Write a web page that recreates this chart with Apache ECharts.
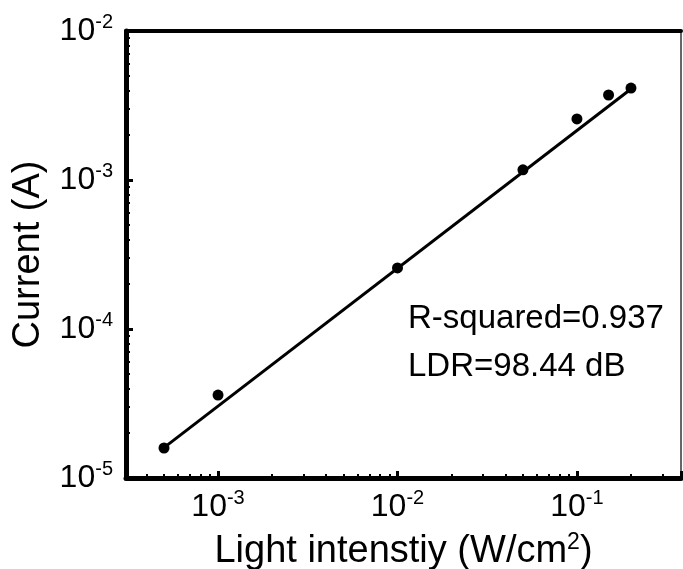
<!DOCTYPE html>
<html>
<head>
<meta charset="utf-8">
<script src="https://cdn.jsdelivr.net/npm/echarts@6/dist/echarts.min.js"></script>
<style>
  html, body { margin: 0; padding: 0; background: #fff; }
  #chart { width: 683px; height: 569px; }
</style>
</head>
<body>
<div id="chart"></div>
<script>
// 数据
var intensity = [5e-4, 1e-3, 1e-2, 5e-2, 0.1, 0.15, 0.2];
var current = [1.59e-5, 3.6e-5, 2.57e-4, 1.17e-3, 2.57e-3, 3.72e-3, 4.14e-3];
// 拟合直线端点
var fitX = [5e-4, 0.2];
var fitY = [1.6e-5, 4.08e-3];
// 坐标轴范围
var xRange = [3.07e-4, 0.38];
var yRange = [1e-5, 1e-2];
var annotation = ['R-squared=0.937', 'LDR=98.44 dB'];

var font = 'Liberation Sans, Arial, sans-serif';

// log 轴次刻度 2..9
var minorTicks = function (range) {
  var list = [];
  var lo = Math.floor(Math.log10(range[0]));
  var hi = Math.ceil(Math.log10(range[1]));
  for (var e = lo; e < hi; e++) {
    for (var k = 2; k <= 9; k++) {
      var v = k * Math.pow(10, e);
      if (v > range[0] && v < range[1]) list.push(v);
    }
  }
  return list;
};

var powLabel = function (v) {
  var e = Math.log10(v);
  var r = Math.round(e);
  if (Math.abs(e - r) > 1e-6) return '';
  return '{b|10}{sup|' + r + '}';
};

var labelStyle = function (margin) {
  return {
    formatter: powLabel,
    color: '#000',
    fontFamily: font,
    fontSize: 32,
    lineHeight: 38,
    margin: margin,
    rich: {
      b: { fontSize: 32, lineHeight: 38, fontFamily: font, color: '#000' },
      sup: { fontSize: 20, lineHeight: 20, verticalAlign: 'top', fontFamily: font, color: '#000' }
    }
  };
};

var pairs = function (xs, ys) {
  var out = [];
  for (var i = 0; i < xs.length; i++) out.push([xs[i], ys[i]]);
  return out;
};

var myChart = echarts.init(document.getElementById('chart'));
var option = {
  animation: false,
  grid: {
    left: 126,
    right: 2,
    top: 31,
    bottom: 91,
    containLabel: false,
    outerBoundsMode: 'none'
  },
  xAxis: [{
    type: 'log',
    logBase: 10,
    min: xRange[0],
    max: xRange[1],
    position: 'bottom',
    name: '{b|Light intenstiy (W/cm}{sup|2}{b|)}',
    nameLocation: 'middle',
    nameGap: 41,
    nameTextStyle: {
      color: '#000',
      fontFamily: font,
      fontSize: 38,
      lineHeight: 42,
      rich: {
        b: { fontSize: 38, lineHeight: 42, fontFamily: font, color: '#000' },
        sup: { fontSize: 23, lineHeight: 32, verticalAlign: 'top', fontFamily: font, color: '#000' }
      }
    },
    axisLine: { lineStyle: { color: '#000', width: 5 } },
    axisTick: { inside: true, length: 7, lineStyle: { color: '#000', width: 3 } },
    axisLabel: labelStyle(10),
    splitLine: { show: false }
  }, {
    // 次刻度
    type: 'log',
    logBase: 10,
    min: xRange[0],
    max: xRange[1],
    position: 'bottom',
    axisLine: { show: false },
    axisTick: { inside: true, length: 4, customValues: minorTicks(xRange), lineStyle: { color: '#000', width: 2 } },
    axisLabel: { show: false },
    splitLine: { show: false }
  }, {
    // 上边框
    type: 'log',
    min: xRange[0],
    max: xRange[1],
    position: 'top',
    axisLine: { lineStyle: { color: '#000', width: 4 } },
    axisTick: { show: false },
    axisLabel: { show: false },
    splitLine: { show: false }
  }],
  yAxis: [{
    type: 'log',
    logBase: 10,
    min: yRange[0],
    max: yRange[1],
    position: 'left',
    name: 'Current (A)',
    nameLocation: 'middle',
    nameGap: 78,
    nameTextStyle: { color: '#000', fontFamily: font, fontSize: 38 },
    axisLine: { lineStyle: { color: '#000', width: 5 } },
    axisTick: { inside: true, length: 7, lineStyle: { color: '#000', width: 3 } },
    axisLabel: labelStyle(13),
    splitLine: { show: false }
  }, {
    type: 'log',
    logBase: 10,
    min: yRange[0],
    max: yRange[1],
    position: 'left',
    axisLine: { show: false },
    axisTick: { inside: true, length: 4, customValues: minorTicks(yRange), lineStyle: { color: '#000', width: 2 } },
    axisLabel: { show: false },
    splitLine: { show: false }
  }, {
    // 右边框
    type: 'log',
    min: yRange[0],
    max: yRange[1],
    position: 'right',
    axisLine: { lineStyle: { color: '#333', width: 1.5 } },
    axisTick: { show: false },
    axisLabel: { show: false },
    splitLine: { show: false }
  }],
  graphic: [{
    type: 'text',
    left: 408,
    top: 295,
    style: {
      text: annotation.join('\n'),
      font: '33px ' + font,
      lineHeight: 48,
      fill: '#000'
    }
  }],
  series: [{
    type: 'line',
    data: pairs(fitX, fitY),
    showSymbol: false,
    lineStyle: { color: '#000', width: 3 },
    z: 2
  }, {
    type: 'scatter',
    data: pairs(intensity, current),
    symbol: 'circle',
    symbolSize: 11,
    itemStyle: { color: '#000', opacity: 1 },
    z: 3
  }]
};
myChart.setOption(option);
</script>
</body>
</html>
